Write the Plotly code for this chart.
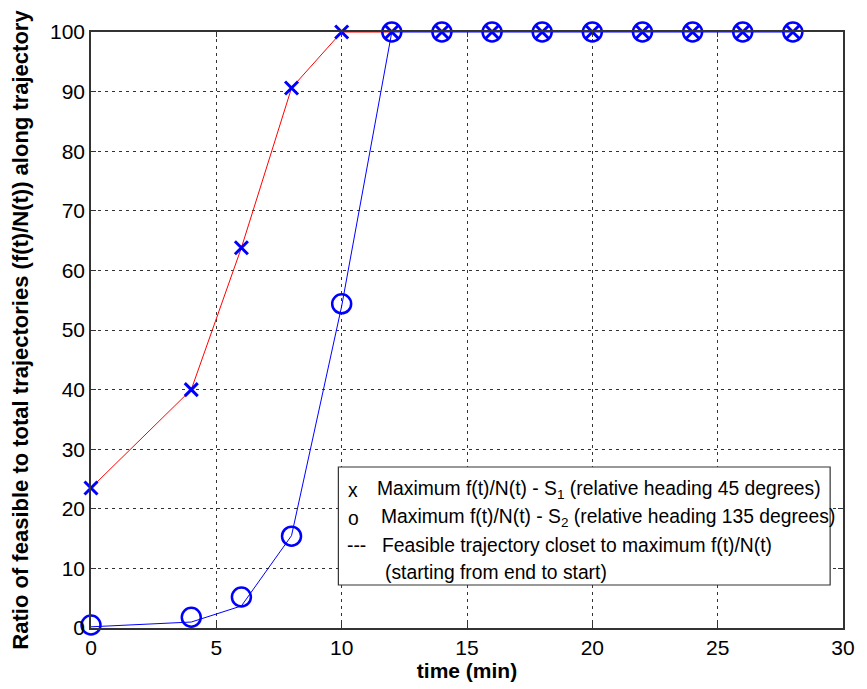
import plotly.graph_objects as go

# Data
t_markers = [0, 4, 6, 8, 10, 12, 14, 16, 18, 20, 22, 24, 26, 28]
s1_max = [23.5, 40.0, 63.8, 90.6, 100, 100, 100, 100, 100, 100, 100, 100, 100, 100]
s2_max = [0.5, 1.8, 5.2, 15.4, 54.4, 100, 100, 100, 100, 100, 100, 100, 100, 100]

t_s1_path = [0, 4, 6, 8, 10, 12]
s1_path = [23.5, 40.0, 63.8, 90.6, 100, 100]
t_s2_path = [0, 4, 6, 8, 10, 12, 14, 16, 18, 20, 22, 24, 26, 28]
s2_path = [0.2, 1.0, 3.7, 15.5, 54.0, 100, 100, 100, 100, 100, 100, 100, 100, 100]

x_ticks = [0, 5, 10, 15, 20, 25, 30]
y_ticks = [0, 10, 20, 30, 40, 50, 60, 70, 80, 90, 100]

legend_rows = [
    ("x", "Maximum f(t)/N(t) - S<sub>1</sub> (relative heading 45 degrees)"),
    ("o", "Maximum f(t)/N(t) - S<sub>2</sub> (relative heading 135 degrees)"),
    ("---", "Feasible trajectory closet to maximum f(t)/N(t)"),
    ("", "(starting from end to start)"),
]

FONT = "Liberation Sans, Arial, sans-serif"
OFF = 8  # page body margin
W, H = 867 - OFF, 689 - OFF
# target page pixels of plot area: left 91, right 851, top 32, bottom 628
L, T = 91 - OFF, 32 - OFF
R = W - (851 - OFF)
B = H - (628 - OFF)
pw, ph = W - L - R, H - T - B


def px_x(p):
    return (p - OFF - L) / pw


def px_y(p):
    return (H - B - (p - OFF)) / ph


fig = go.Figure()
fig.add_trace(go.Scatter(x=t_s1_path, y=s1_path, mode="lines",
                         line=dict(color="#ff0000", width=1), cliponaxis=False))
fig.add_trace(go.Scatter(x=t_s2_path, y=s2_path, mode="lines",
                         line=dict(color="#0000ff", width=1), cliponaxis=False))
fig.add_trace(go.Scatter(x=t_markers, y=s2_max, mode="markers",
                         marker=dict(symbol="circle-open", size=19, color="#0000ff",
                                     line=dict(width=2.5, color="#0000ff")),
                         cliponaxis=False))
fig.add_trace(go.Scatter(x=t_markers, y=s1_max, mode="markers",
                         marker=dict(symbol="x-thin-open", size=13, color="#0000ff",
                                     line=dict(width=3, color="#0000ff")),
                         cliponaxis=False))

axis_common = dict(
    showline=True, linecolor="#333333", linewidth=1.5, mirror="ticks",
    ticks="inside", ticklen=5, tickcolor="#333333",
    showgrid=True, gridcolor="#333333", gridwidth=1, griddash="3px,4px",
    zeroline=False, tickfont=dict(family=FONT, size=21, color="black"),
)

fig.update_xaxes(range=[0, 30], tickvals=x_ticks, ticktext=[str(v) for v in x_ticks],
                 title=dict(text="<b>time (min)</b>", font=dict(family=FONT, size=21, color="black"),
                            standoff=2),
                 **axis_common)
fig.update_yaxes(range=[0, 100], tickvals=y_ticks, ticktext=[str(v) for v in y_ticks],
                 title=dict(text="<b>Ratio of feasible to total trajectories (f(t)/N(t)) along trajectory</b>",
                            font=dict(family=FONT, size=22, color="black"), standoff=15),
                 **axis_common)

# legend box
fig.add_shape(type="rect", xref="paper", yref="paper",
              x0=px_x(341), x1=px_x(838), y0=px_y(585), y1=px_y(467),
              line=dict(color="#333333", width=1.2), fillcolor="white", layer="above")

row_y = [490, 518, 545, 572]
sym_x = [349, 349, 348, 0]
txt_x = [378, 382, 383, 386]
for (sym, txt), yy, sx, tx in zip(legend_rows, row_y, sym_x, txt_x):
    if sym:
        fig.add_annotation(x=px_x(sx), y=px_y(yy), xref="paper", yref="paper",
                           text=sym, showarrow=False, xanchor="left", yanchor="middle",
                           font=dict(family=FONT, size=19.3, color="black"))
    fig.add_annotation(x=px_x(tx), y=px_y(yy), xref="paper", yref="paper",
                       text=txt, showarrow=False, xanchor="left", yanchor="middle",
                       font=dict(family=FONT, size=19.3, color="black"))

fig.update_layout(
    width=W, height=H, margin=dict(l=L, r=R, t=T, b=B),
    paper_bgcolor="white", plot_bgcolor="white", showlegend=False,
    font=dict(family=FONT, color="black"),
)

fig.write_html("out.html")
